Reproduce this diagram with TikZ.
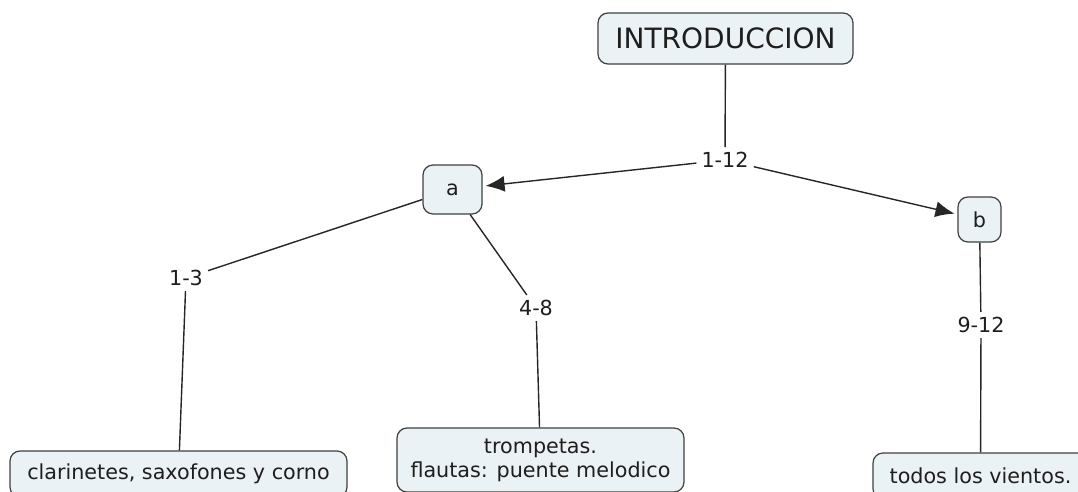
\documentclass[tikz,border=0pt]{standalone}
\usepackage{fontspec}
\setmainfont{DejaVu Sans}
\usetikzlibrary{arrows.meta}
\definecolor{boxfill}{HTML}{EBF2F5}
\definecolor{boxline}{HTML}{404040}
\definecolor{textgray}{HTML}{1E1E1E}
\begin{document}
\begin{tikzpicture}
[x=1pt,y=-1pt,
 conceptdecorate/.style={shape=rectangle,rounded corners=10pt,draw=boxline,line width=1.2pt,fill=boxfill,text=textgray,inner sep=0pt,align=center,font=\fontsize{20.7}{24}\selectfont},%
 linkdecorate/.style={inner sep=5pt,text=textgray,font=\fontsize{20.7}{24}\selectfont},%
 linedecorate/.style={-,line width=1.4pt,draw=black!85},%
 arrowdecorate/.style={-{Latex[length=19pt,width=16pt]},line width=1.4pt,draw=black!85,shorten >=3pt}]
\clip (0,0) rectangle (1078,492);
% concepts
\node (intro) at (725.5,38.5) [conceptdecorate,minimum width=255pt,minimum height=51pt,font=\fontsize{28}{32}\selectfont] {INTRODUCCION};
\node (a) at (452.5,189.5) [conceptdecorate,minimum width=59pt,minimum height=49pt] {a};
\node (b) at (979.5,219.5) [conceptdecorate,minimum width=43pt,minimum height=45pt] {b};
\node (clar) at (178.5,474) [conceptdecorate,minimum width=337pt,minimum height=46pt] {clarinetes, saxofones y corno};
\node (tromp) at (540.5,460) [conceptdecorate,minimum width=287pt,minimum height=64pt] {trompetas.\\flautas: puente melodico};
\node (todos) at (980.5,476) [conceptdecorate,minimum width=215pt,minimum height=46pt] {todos los vientos.};
% link labels
\node (l112) at (725,160) [linkdecorate] {1-12};
\node (l13) at (186,278) [linkdecorate] {1-3};
\node (l48) at (536,308) [linkdecorate] {4-8};
\node (l912) at (981,325) [linkdecorate] {9-12};
% connections
\path
(intro) edge[linedecorate] (l112)
(l112) edge[arrowdecorate] (a)
(l112) edge[arrowdecorate] (b)
(a) edge[linedecorate] (l13)
(a) edge[linedecorate] (l48)
(l13) edge[linedecorate] (clar)
(l48) edge[linedecorate] (tromp)
(b) edge[linedecorate] (l912)
(l912) edge[linedecorate] (todos);
\end{tikzpicture}
\end{document}
